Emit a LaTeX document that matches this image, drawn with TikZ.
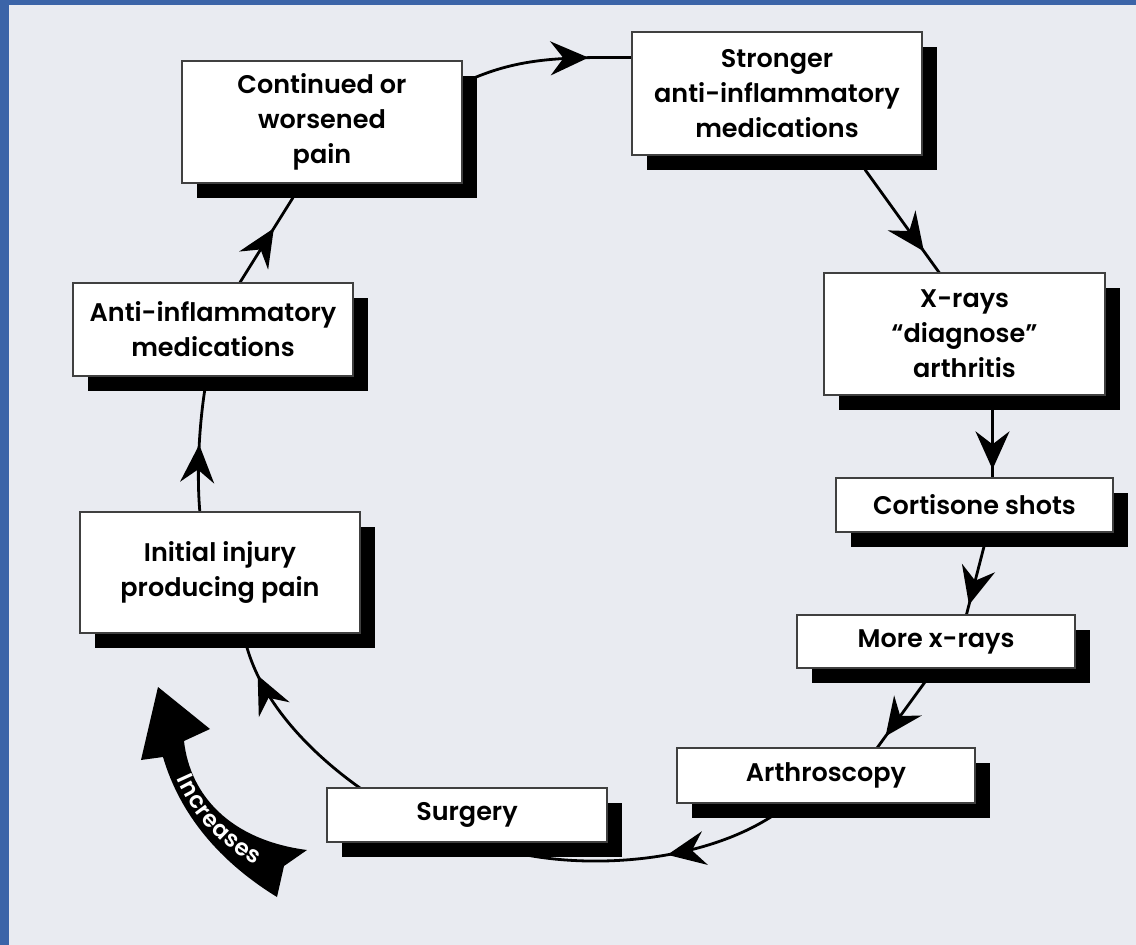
\documentclass[tikz,border=0pt]{standalone}
\usepackage{fontspec}
\newfontfamily\boxfont{Poppins SemiBold}
\usetikzlibrary{shadows,decorations.markings,decorations.text,arrows.meta,calc}
\definecolor{bggray}{HTML}{E9EBF1}
\definecolor{frameblue}{HTML}{3B64A8}
\pgfdeclarelayer{background}
\pgfsetlayers{background,main}
\tikzset{
  box/.style={draw=black!75, line width=1.2pt, fill=white, inner sep=0pt, align=center,
    font=\boxfont\fontsize{25.5}{35}\selectfont,
    drop shadow={shadow xshift=15pt, shadow yshift=-15pt, fill=black, opacity=1}},
  conn/.style={line width=2.8pt, draw=black},
  midarrow/.style={postaction={decorate}, decoration={markings,
    mark=at position #1 with {\arrow{Stealth[length=38pt,width=34pt,inset=13pt]}}}},
}
\begin{document}
\begin{tikzpicture}[x=1pt,y=-1pt]
\useasboundingbox (0,0) rectangle (1136,945);
% boxes
\node[box, minimum width=280pt, minimum height=122pt] (cont) at (322,122) {Continued or\\worsened\\pain};
\node[box, minimum width=290pt, minimum height=123pt] (strong) at (777,93.5) {Stronger\\anti-inflammatory\\medications};
\node[box, minimum width=281pt, minimum height=122pt] (xray) at (964.5,334) {X-rays\\“diagnose”\\arthritis};
\node[box, minimum width=277pt, minimum height=54pt] (cort) at (974.5,505) {Cortisone shots};
\node[box, minimum width=278pt, minimum height=53pt] (more) at (936,641.5) {More x-rays};
\node[box, minimum width=298pt, minimum height=55pt] (arth) at (826,775.5) {Arthroscopy};
\node[box, minimum width=280pt, minimum height=54pt] (surg) at (467,815) {Surgery};
\node[box, minimum width=280pt, minimum height=121pt] (init) at (220,572.5) {Initial injury\\producing pain};
\node[box, minimum width=280pt, minimum height=93pt] (anti) at (213,329.5) {Anti-inflammatory\\medications};
% background and connectors
\begin{pgfonlayer}{background}
\fill[bggray] (0,0) rectangle (1136,945);
\fill[frameblue] (0,0) rectangle (1136,5);
\fill[frameblue] (0,0) rectangle (9,945);
\draw[conn, midarrow=0.55] ($(init.north)+(-20,2)$) .. controls (196,470) and (200,420) .. ($(anti.south)+(-8,12)$);
\draw[conn, midarrow=0.64] ($(anti.north)+(27,0)$) -- ($(cont.south)+(-29,14)$);
\draw[conn, midarrow=0.72] ($(cont.north east)+(8,19)$) .. controls (520,58) and (560,57) .. ($(strong.west)+(4,-36)$);
\draw[conn, midarrow=0.78] ($(strong.south)+(88,14)$) -- ($(xray.north)+(-24,2)$);
\draw[conn, midarrow=0.86] ($(xray.south)+(28,12)$) -- ($(cort.north)+(18,2)$);
\draw[conn, midarrow=0.84] ($(cort.south)+(10,12)$) -- ($(more.north)+(30,2)$);
\draw[conn, midarrow=0.81] ($(more.south)+(-10,12)$) -- ($(arth.north)+(50,2)$);
\draw[conn, midarrow=0.42] ($(arth.south)+(-50,10)$) .. controls (700,865) and (580,870) .. ($(surg.south)+(40,8)$);
\draw[conn, midarrow=0.84] ($(surg.north)+(-105,2)$) .. controls (320,760) and (265,710) .. ($(init.south)+(27,14)$);
\end{pgfonlayer}
% Increases arrow
\fill[black] (158,687) -- (210,729) -- (184,741) .. controls (190,795) and (230,840) .. (307,850)
  -- (284,866) -- (277,897) .. controls (220,862) and (180,815) .. (163,757) -- (141,760) -- cycle;
\path[decorate, decoration={text along path, text align=center, raise=-8pt, text color=white,
  text={|\boxfont\fontsize{23}{23}\selectfont|Increases}}]
  (174,745) .. controls (187,800) and (225,849) .. (289,871);
\end{tikzpicture}
\end{document}
